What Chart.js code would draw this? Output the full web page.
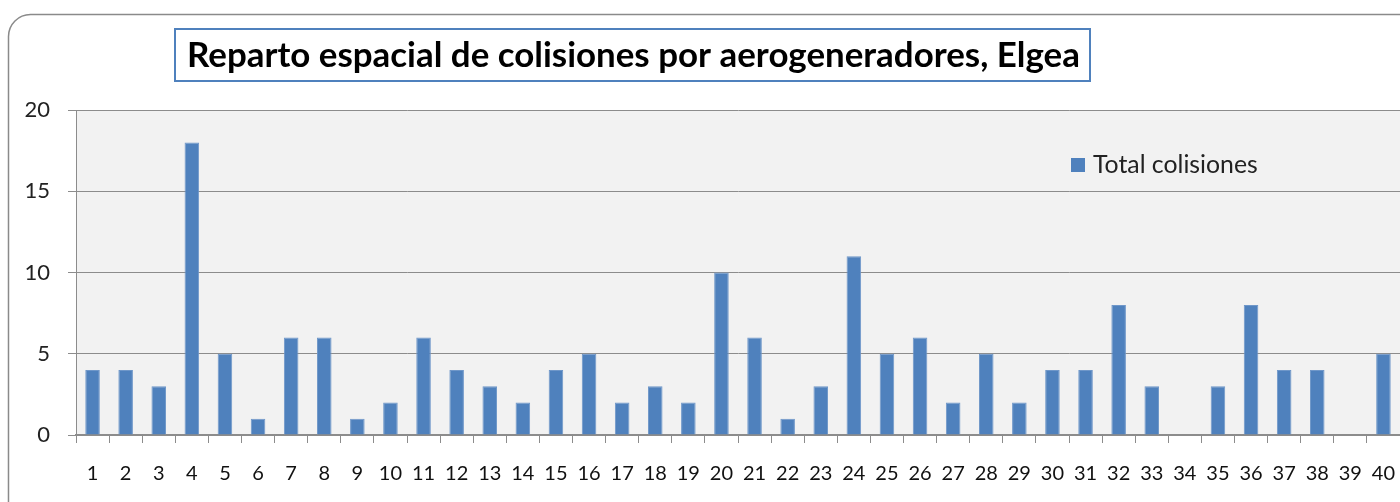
<!DOCTYPE html>
<html>
<head>
<meta charset="utf-8">
<script src="https://cdn.jsdelivr.net/npm/chart.js@4/dist/chart.umd.min.js"></script>
<style>
  html, body { margin: 0; padding: 0; background: #ffffff; overflow: hidden; }
  #wrap { width: 1400px; height: 502px; position: relative; }
</style>
</head>
<body>
<div id="wrap"><canvas id="colisiones"></canvas></div>
<script>
const aerogeneradores = ['1','2','3','4','5','6','7','8','9','10','11','12','13','14','15','16','17','18','19','20',
  '21','22','23','24','25','26','27','28','29','30','31','32','33','34','35','36','37','38','39','40'];
const totalColisiones = [4, 4, 3, 18, 5, 1, 6, 6, 1, 2, 6, 4, 3, 2, 4, 5, 2, 3, 2, 10,
  6, 1, 3, 11, 5, 6, 2, 5, 2, 4, 4, 8, 3, 0, 3, 8, 4, 4, 0, 5];
const yTicks = [0, 5, 10, 15, 20];
const chartTitle = 'Reparto espacial de colisiones por aerogeneradores, Elgea';
const serieLabel = 'Total colisiones';

const fontFamily = "Lato, 'Open Sans', sans-serif";

// ajusta el tamaño de letra para que el texto ocupe un ancho dado
function fitFont(ctx, text, weight, width) {
  ctx.font = weight + ' 20px ' + fontFamily;
  const size = 20 * width / ctx.measureText(text).width;
  return weight + ' ' + size.toFixed(1) + 'px ' + fontFamily;
}

// marco exterior, fondo del area de trazado, titulo y leyenda
const decorPlugin = {
  id: 'decor',
  beforeDraw(chart) {
    const ctx = chart.ctx;
    const a = chart.chartArea;
    ctx.save();
    ctx.strokeStyle = '#8a8a8a';
    ctx.lineWidth = 1.5;
    ctx.beginPath();
    ctx.roundRect(8.5, 14.5, 1420, 520, 22);
    ctx.stroke();
    ctx.fillStyle = '#f2f2f2';
    ctx.fillRect(a.left, a.top, a.right - a.left, a.bottom - a.top);
    ctx.restore();
  },
  afterDraw(chart) {
    const ctx = chart.ctx;
    ctx.save();
    // titulo con recuadro
    ctx.fillStyle = '#ffffff';
    ctx.fillRect(175, 29, 915, 52);
    ctx.strokeStyle = '#4f81bd';
    ctx.lineWidth = 2;
    ctx.strokeRect(175, 29, 915, 52);
    ctx.fillStyle = '#000000';
    ctx.font = fitFont(ctx, chartTitle, 'bold', 892);
    ctx.textAlign = 'left';
    ctx.textBaseline = 'middle';
    ctx.fillText(chartTitle, 187, 56);
    // leyenda
    ctx.fillStyle = '#4f81bd';
    ctx.fillRect(1071, 158, 14, 14);
    ctx.fillStyle = '#222222';
    ctx.font = fitFont(ctx, serieLabel, 'normal', 165);
    ctx.fillText(serieLabel, 1093, 165);
    ctx.restore();
  }
};

new Chart(document.getElementById('colisiones'), {
  type: 'bar',
  data: {
    labels: aerogeneradores,
    datasets: [{
      label: serieLabel,
      data: totalColisiones,
      backgroundColor: '#4f81bd',
      borderColor: '#6f97c9',
      borderWidth: 1,
      barPercentage: 0.44,
      categoryPercentage: 1.0
    }]
  },
  options: {
    responsive: true,
    maintainAspectRatio: false,
    animation: false,
    layout: { padding: { top: 110, right: 0, left: 0, bottom: 0 } },
    scales: {
      x: {
        afterFit: s => { s.height = 67; s.paddingLeft = 0; s.paddingRight = 0; },
        grid: {
          offset: true,
          drawOnChartArea: false,
          tickLength: 8,
          color: '#8c8c8c'
        },
        border: { color: '#8c8c8c', width: 1.5 },
        ticks: {
          color: '#111111',
          font: { family: fontFamily, size: 20 },
          padding: 19,
          maxRotation: 0,
          autoSkip: false
        }
      },
      y: {
        min: 0,
        max: 20,
        afterFit: s => { s.width = 76; },
        afterBuildTicks: s => { s.ticks = yTicks.map(v => ({ value: v })); },
        grid: {
          color: '#8c8c8c',
          lineWidth: 1,
          tickLength: 8
        },
        border: { color: '#8c8c8c', width: 1 },
        ticks: {
          color: '#222222',
          font: { family: fontFamily, size: 22 },
          padding: 18
        }
      }
    },
    plugins: {
      legend: { display: false },
      title: { display: false },
      tooltip: { enabled: false }
    }
  },
  plugins: [decorPlugin]
});
</script>
</body>
</html>
